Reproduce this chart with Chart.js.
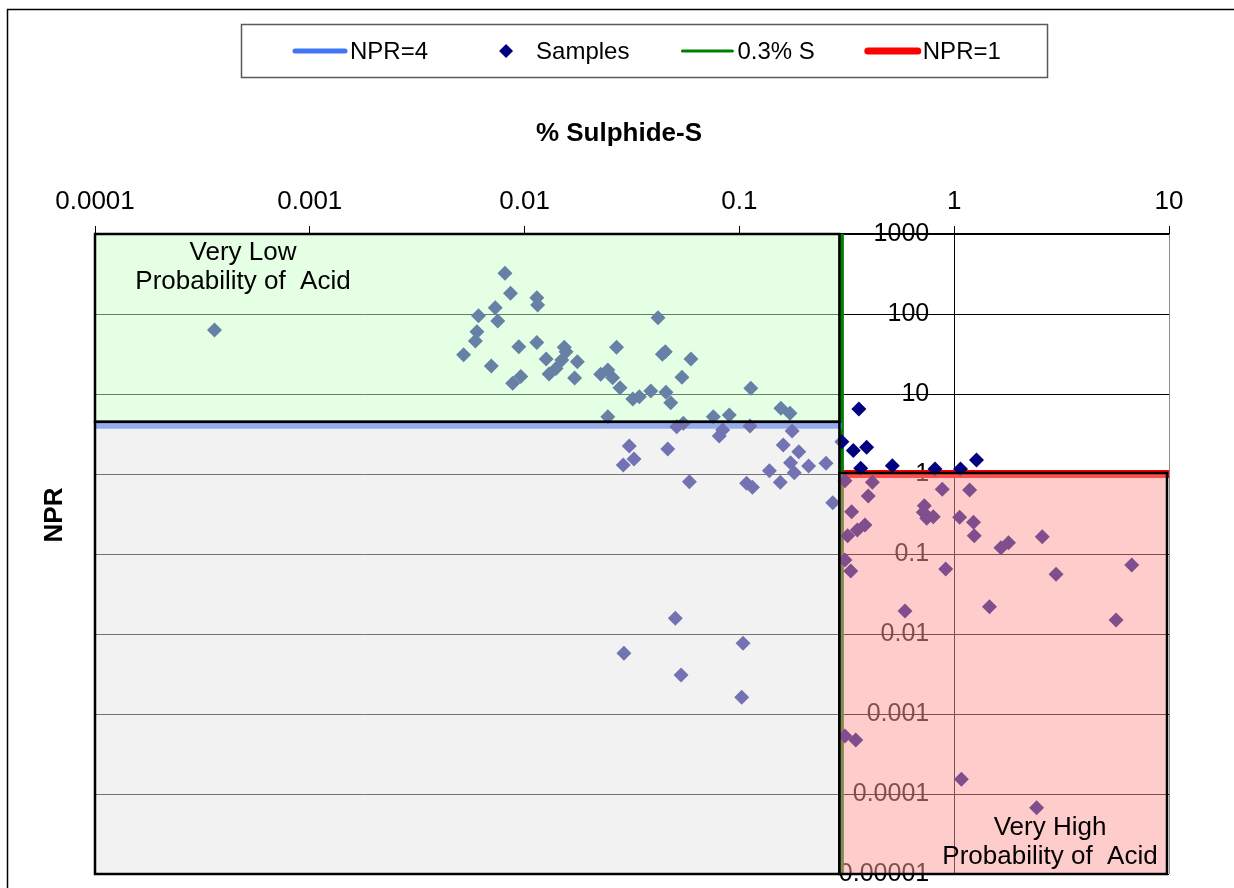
<!DOCTYPE html>
<html>
<head>
<meta charset="utf-8">
<title>NPR vs % Sulphide-S</title>
<script src="https://cdn.jsdelivr.net/npm/chart.js@4.4.1/dist/chart.umd.min.js"></script>
<style>
  html, body { margin: 0; padding: 0; background: #fff; }
  canvas { display: block; }
</style>
</head>
<body>
<canvas id="plotarea" width="1234" height="888"></canvas>
<script>
// sample results: % sulphide-S against neutralization potential ratio
const sulphideS = [
  0.00036, 0.0081, 0.0086, 0.0114, 0.0115, 0.0073, 0.0061, 0.0075, 0.0060, 0.0059,
  0.0052, 0.0094, 0.0114, 0.0070, 0.0126, 0.0153, 0.0156, 0.0149, 0.0176, 0.0140,
  0.0130, 0.0096, 0.0088, 0.0171, 0.0268, 0.0418, 0.0438, 0.0452, 0.0595, 0.0540,
  0.0226, 0.0244, 0.0257, 0.0278, 0.0319, 0.0342, 0.0387, 0.0455, 0.0479, 0.0244,
  0.0756, 0.113, 0.156, 0.172, 0.0897,
  0.0511, 0.0548, 0.0836, 0.0806, 0.112, 0.176, 0.0307, 0.0464, 0.0323, 0.0288,
  0.160, 0.189, 0.173, 0.180, 0.210, 0.253, 0.138, 0.155, 0.108, 0.115, 0.0585, 0.272,
  0.0503, 0.0290, 0.104, 0.0535, 0.1025,
  0.30, 0.360, 0.339, 0.391, 0.367, 0.515, 0.814, 1.07, 1.27,
  0.310, 0.416, 0.398, 0.333, 0.319, 0.354, 0.384, 0.726, 0.718, 0.745,
  0.799, 0.880, 1.18, 1.06, 1.23, 1.24, 1.65, 1.79, 2.57,
  0.310, 0.330, 0.913, 2.98, 6.71, 0.590, 1.46, 5.67, 0.310, 0.348, 1.08, 2.42
];
const npr = [
  63, 323, 182, 160, 130, 120, 95, 82, 60, 46,
  31, 39, 44, 22.4, 27.4, 38.4, 33.8, 26.6, 25.3, 20.9,
  17.8, 16.6, 13.6, 15.8, 38.4, 90, 31.3, 33.8, 27.4, 16.2,
  17.6, 20, 16.0, 12.0, 8.66, 9.25, 10.9, 10.5, 7.78, 5.20,
  5.20, 11.8, 6.63, 5.74, 5.46,
  3.90, 4.30, 3.55, 2.99, 3.98, 3.45, 2.24, 2.05, 1.54, 1.30,
  2.30, 1.90, 1.38, 1.04, 1.26, 1.36, 1.10, 0.787, 0.765, 0.682, 0.801, 0.438,
  0.0157, 0.00574, 0.00766, 0.00307, 0.00162,
  2.53, 6.49, 1.96, 2.16, 1.18, 1.27, 1.155, 1.155, 1.50,
  0.825, 0.787, 0.531, 0.338, 0.169, 0.200, 0.230, 0.402, 0.332, 0.279,
  0.292, 0.644, 0.631, 0.288, 0.249, 0.169, 0.120, 0.138, 0.164,
  0.0841, 0.0613, 0.0649, 0.0557, 0.0729, 0.0194, 0.0219, 0.0150, 0.000531, 0.000473, 0.000153, 0.0000675
];

// axis decades and their labels
const xTickValues = [0.0001, 0.001, 0.01, 0.1, 1, 10];
const xTickLabels = ['0.0001', '0.001', '0.01', '0.1', '1', '10'];
const yTickValues = [0.00001, 0.0001, 0.001, 0.01, 0.1, 1, 10, 100, 1000];
const yTickLabels = ['0.00001', '0.0001', '0.001', '0.01', '0.1', '1', '10', '100', '1000'];

// screening criteria
const sulphideLimit = 0.3;
const nprUpper = 4;
const nprLower = 1;
const yAxisCrossing = 1;

const lowRiskText = ['Very Low', 'Probability of  Acid'];
const highRiskText = ['Very High', 'Probability of  Acid'];

const FONT = "'Liberation Sans', Arial, sans-serif";
Chart.defaults.font.family = FONT;
Chart.defaults.color = '#000';

const xMin = xTickValues[0], xMax = xTickValues[xTickValues.length - 1];
const yMin = yTickValues[0], yMax = yTickValues[yTickValues.length - 1];

const datasets = [
  {
    label: 'NPR=4',
    data: [{x: xMin, y: nprUpper}, {x: sulphideLimit, y: nprUpper}],
    showLine: true, borderColor: '#4175f5', borderWidth: 6,
    pointRadius: 0, pointHitRadius: 0, order: 1
  },
  {
    label: 'Samples',
    data: sulphideS.map((s, i) => ({x: s, y: npr[i]})),
    pointStyle: 'rectRot', pointRadius: 7.5, pointBorderWidth: 0,
    pointBackgroundColor: '#000080', backgroundColor: '#000080', order: 0
  },
  {
    label: '0.3% S',
    data: [{x: sulphideLimit, y: yMax}, {x: sulphideLimit, y: yMin}],
    showLine: true, borderColor: '#008000', borderWidth: 4,
    pointRadius: 0, pointHitRadius: 0, order: 1
  },
  {
    label: 'NPR=1',
    data: [{x: sulphideLimit, y: nprLower}, {x: xMax, y: nprLower}],
    showLine: true, borderColor: '#ff0000', borderWidth: 8,
    pointRadius: 0, pointHitRadius: 0, order: 1
  }
];

// outer frame, axis titles and the boxed legend
const decorPlugin = {
  id: 'decor',
  beforeDraw(chart) {
    const ctx = chart.ctx;
    ctx.save();
    ctx.strokeStyle = '#000';
    ctx.lineWidth = 1.5;
    ctx.strokeRect(7.5, 9.5, 1400, 1000);

    ctx.font = 'bold 26px ' + FONT;
    ctx.fillStyle = '#000';
    ctx.textAlign = 'center';
    ctx.textBaseline = 'middle';
    ctx.fillText('% Sulphide-S', 619, 134);
    ctx.translate(55, 515);
    ctx.rotate(-Math.PI / 2);
    ctx.fillText('NPR', 0, 0);
    ctx.restore();
  },
  afterDraw(chart) {
    const ctx = chart.ctx;
    ctx.save();
    ctx.strokeStyle = '#5a5a5a';
    ctx.lineWidth = 1.5;
    ctx.strokeRect(241.5, 24.5, 806, 53);

    ctx.font = '24px ' + FONT;
    ctx.textAlign = 'left';
    ctx.textBaseline = 'middle';
    const cy = 51;
    let x = 292;
    chart.data.datasets.forEach(ds => {
      if (ds.showLine) {
        ctx.strokeStyle = ds.borderColor;
        ctx.lineWidth = ds.borderWidth - 1;
        ctx.lineCap = 'round';
        ctx.beginPath();
        ctx.moveTo(x + 3, cy);
        ctx.lineTo(x + 53, cy);
        ctx.stroke();
      } else {
        ctx.fillStyle = ds.pointBackgroundColor;
        Chart.helpers.drawPoint(ctx, {pointStyle: 'rectRot', radius: 7, borderWidth: 0, rotation: 0}, x + 28, cy);
      }
      ctx.fillStyle = '#000';
      ctx.fillText(ds.label, x + 58, cy + 1);
      x += 58 + ctx.measureText(ds.label).width + 50;
    });
    ctx.restore();
  }
};

// NPR labels sit beside the vertical axis at 1 % S, under the shaded zones
const nprLabelPlugin = {
  id: 'nprLabels',
  beforeDatasetsDraw(chart) {
    const {ctx, scales: {x, y}} = chart;
    const ax = x.getPixelForValue(yAxisCrossing);
    ctx.save();
    ctx.font = '25px ' + FONT;
    ctx.fillStyle = '#000';
    ctx.textAlign = 'right';
    ctx.textBaseline = 'middle';
    yTickValues.forEach((v, i) => ctx.fillText(yTickLabels[i], ax - 25, y.getPixelForValue(v)));
    ctx.restore();
  }
};

// translucent classification zones drawn over the samples
const zonePlugin = {
  id: 'zones',
  afterDatasetsDraw(chart) {
    const {ctx, scales: {x, y}} = chart;
    const left = x.getPixelForValue(xMin);
    const right = x.getPixelForValue(xMax) - 2;
    const mid = x.getPixelForValue(sulphideLimit) - 2.5;
    const top = y.getPixelForValue(yMax);
    const bottom = y.getPixelForValue(yMin);
    const upper = y.getPixelForValue(nprUpper) - 4;
    const lower = y.getPixelForValue(nprLower) - 1;

    ctx.save();
    ctx.lineWidth = 2.5;
    ctx.strokeStyle = '#000';
    const zones = [
      [left, top, mid, upper, 'rgba(204,255,204,0.5)'],
      [left, upper, mid, bottom, 'rgba(230,230,230,0.5)'],
      [mid, lower, right, bottom, 'rgba(255,153,153,0.5)']
    ];
    zones.forEach(([x0, y0, x1, y1, fill]) => {
      ctx.fillStyle = fill;
      ctx.fillRect(x0, y0, x1 - x0, y1 - y0);
      ctx.strokeRect(x0, y0, x1 - x0, y1 - y0);
    });

    ctx.fillStyle = '#000';
    ctx.font = '26px ' + FONT;
    ctx.textAlign = 'center';
    ctx.textBaseline = 'middle';
    ctx.fillText(lowRiskText[0], left + 148, top + 19);
    ctx.fillText(lowRiskText[1], left + 148, top + 48);
    ctx.fillText(highRiskText[0], right - 117, bottom - 46);
    ctx.fillText(highRiskText[1], right - 117, bottom - 17);
    ctx.restore();
  }
};

new Chart(document.getElementById('plotarea'), {
  type: 'scatter',
  data: { datasets },
  options: {
    responsive: false,
    devicePixelRatio: 1,
    animation: false,
    events: [],
    layout: { padding: { left: 95, right: 65, top: 0, bottom: 14 } },
    plugins: {
      legend: { display: false },
      title: { display: false },
      tooltip: { enabled: false }
    },
    scales: {
      x: {
        type: 'logarithmic',
        position: 'top',
        min: xMin,
        max: xMax,
        afterBuildTicks: s => { s.ticks = xTickValues.map(v => ({value: v})); },
        afterFit: s => { s.height = 234; s.paddingLeft = 0; s.paddingRight = 0; },
        ticks: {
          autoSkip: false, maxRotation: 0, padding: 9, color: '#000',
          font: { size: 26 },
          callback: v => xTickLabels[xTickValues.indexOf(v)]
        },
        grid: {
          color: c => (c.tick && c.tick.value === xMax) ? '#8c8c8c' : 'rgba(0,0,0,0)',
          tickColor: '#000', tickLength: 8, lineWidth: 1
        },
        border: { color: '#000', width: 1.5 }
      },
      y: {
        type: 'logarithmic',
        position: { x: yAxisCrossing },
        min: yMin,
        max: yMax,
        afterBuildTicks: s => { s.ticks = yTickValues.map(v => ({value: v})); },
        afterFit: s => { s.paddingTop = 0; s.paddingBottom = 0; },
        ticks: { display: false, autoSkip: false },
        grid: { color: '#000', tickColor: '#000', tickLength: 8, lineWidth: 1 },
        border: { color: '#000', width: 1 }
      }
    }
  },
  plugins: [decorPlugin, nprLabelPlugin, zonePlugin]
});
</script>
</body>
</html>
